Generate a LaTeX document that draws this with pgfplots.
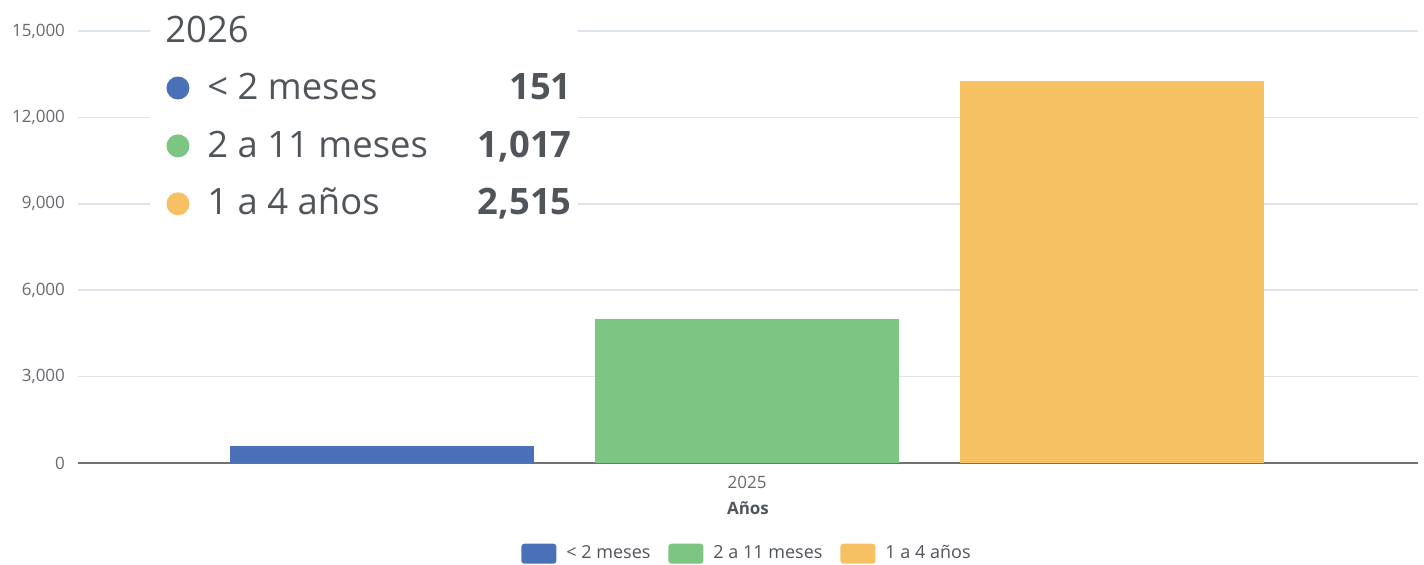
\documentclass[border=0pt]{standalone}
\usepackage{fontspec}
\setmainfont{Open Sans}
\usepackage{pgfplots}
\pgfplotsset{compat=1.18}

\definecolor{cBlue}{HTML}{4A70B8}
\definecolor{cGreen}{HTML}{7CC583}
\definecolor{cOrange}{HTML}{F7C163}
\definecolor{gridc}{HTML}{DEE4EC}
\definecolor{axisc}{HTML}{6E7176}
\definecolor{txt}{HTML}{50555B}
\definecolor{tickc}{HTML}{666A70}

\newcommand\tipfont{\fontsize{18.2}{22}\selectfont}

\begin{document}
\begin{tikzpicture}
\begin{axis}[
  name=ax,
  scale only axis, width=670pt, height=216pt,
  xmin=-1.833, xmax=1.838, ymin=0, ymax=15000,
  xtick={0}, xticklabels={2025},
  ytick={0,3000,6000,9000,12000,15000},
  scaled ticks=false,
  major tick length=0pt,
  axis x line*=bottom, axis y line*=left,
  x axis line style={draw=axisc, line width=1pt, -},
  y axis line style={draw=none},
  ymajorgrids, grid style={gridc, line width=0.8pt},
  tick label style={font=\fontsize{8.5}{10}\selectfont, text=tickc},
  /pgf/number format/assume math mode=true,
  yticklabel style={/pgf/number format/fixed, /pgf/number format/1000 sep={,}, xshift=-3pt},
  xticklabel style={yshift=-3pt},
  xlabel={\textbf{Años}},
  xlabel style={at={(axis description cs:0.5,-0.104)}, anchor=center, font=\fontsize{8.5}{10}\selectfont, text=txt},
  legend columns=-1,
  legend style={at={(axis description cs:0.5,-0.210)}, anchor=center, draw=none, fill=none,
    font=\fontsize{9}{11}\selectfont, text=txt,
    /tikz/every odd column/.append style={column sep=3pt},
    /tikz/every even column/.append style={column sep=7pt}},
  clip=false,
]
\addplot[ybar, bar shift=0pt, bar width=0.833, fill=cBlue, draw=none,
  legend image code/.code={\fill[cBlue, rounded corners=1.5pt] (0pt,-5pt) rectangle (17.5pt,5pt);}]
  coordinates {(-1,600)};
\addplot[ybar, bar shift=0pt, bar width=0.833, fill=cGreen, draw=none,
  legend image code/.code={\fill[cGreen, rounded corners=1.5pt] (0pt,-5pt) rectangle (17.5pt,5pt);}]
  coordinates {(0,5000)};
\addplot[ybar, bar shift=0pt, bar width=0.833, fill=cOrange, draw=none,
  legend image code/.code={\fill[cOrange, rounded corners=1.5pt] (0pt,-5pt) rectangle (17.5pt,5pt);}]
  coordinates {(1,13250)};
\legend{< 2 meses, 2 a 11 meses, 1 a 4 años}

% tooltip overlay
\fill[white] (axis description cs:0.0537,0.551) rectangle (axis description cs:0.3731,1.08);
\node[anchor=base west, inner sep=0pt, font=\tipfont, text=txt] at (axis description cs:0.0649,0.9745) {2026};
\fill[cBlue] (axis description cs:0.0746,0.868) circle[radius=5.75pt];
\fill[cGreen] (axis description cs:0.0746,0.734) circle[radius=5.75pt];
\fill[cOrange] (axis description cs:0.0746,0.600) circle[radius=5.75pt];
\node[anchor=base west, inner sep=0pt, font=\tipfont, text=txt] at (axis description cs:0.0963,0.8403) {< 2 meses};
\node[anchor=base west, inner sep=0pt, font=\tipfont, text=txt] at (axis description cs:0.0963,0.7083) {2 a 11 meses};
\node[anchor=base west, inner sep=0pt, font=\tipfont, text=txt] at (axis description cs:0.0963,0.5741) {1 a 4 años};
\node[anchor=base east, inner sep=0pt, font=\tipfont\bfseries, text=txt] at (axis description cs:0.3687,0.8403) {151};
\node[anchor=base east, inner sep=0pt, font=\tipfont\bfseries, text=txt] at (axis description cs:0.3687,0.7083) {1,017};
\node[anchor=base east, inner sep=0pt, font=\tipfont\bfseries, text=txt] at (axis description cs:0.3687,0.5741) {2,515};
\end{axis}
\pgfresetboundingbox
\path ([xshift=-39pt,yshift=-51pt]ax.south west) rectangle ([xshift=3pt,yshift=15.5pt]ax.north east);
\end{tikzpicture}
\end{document}
